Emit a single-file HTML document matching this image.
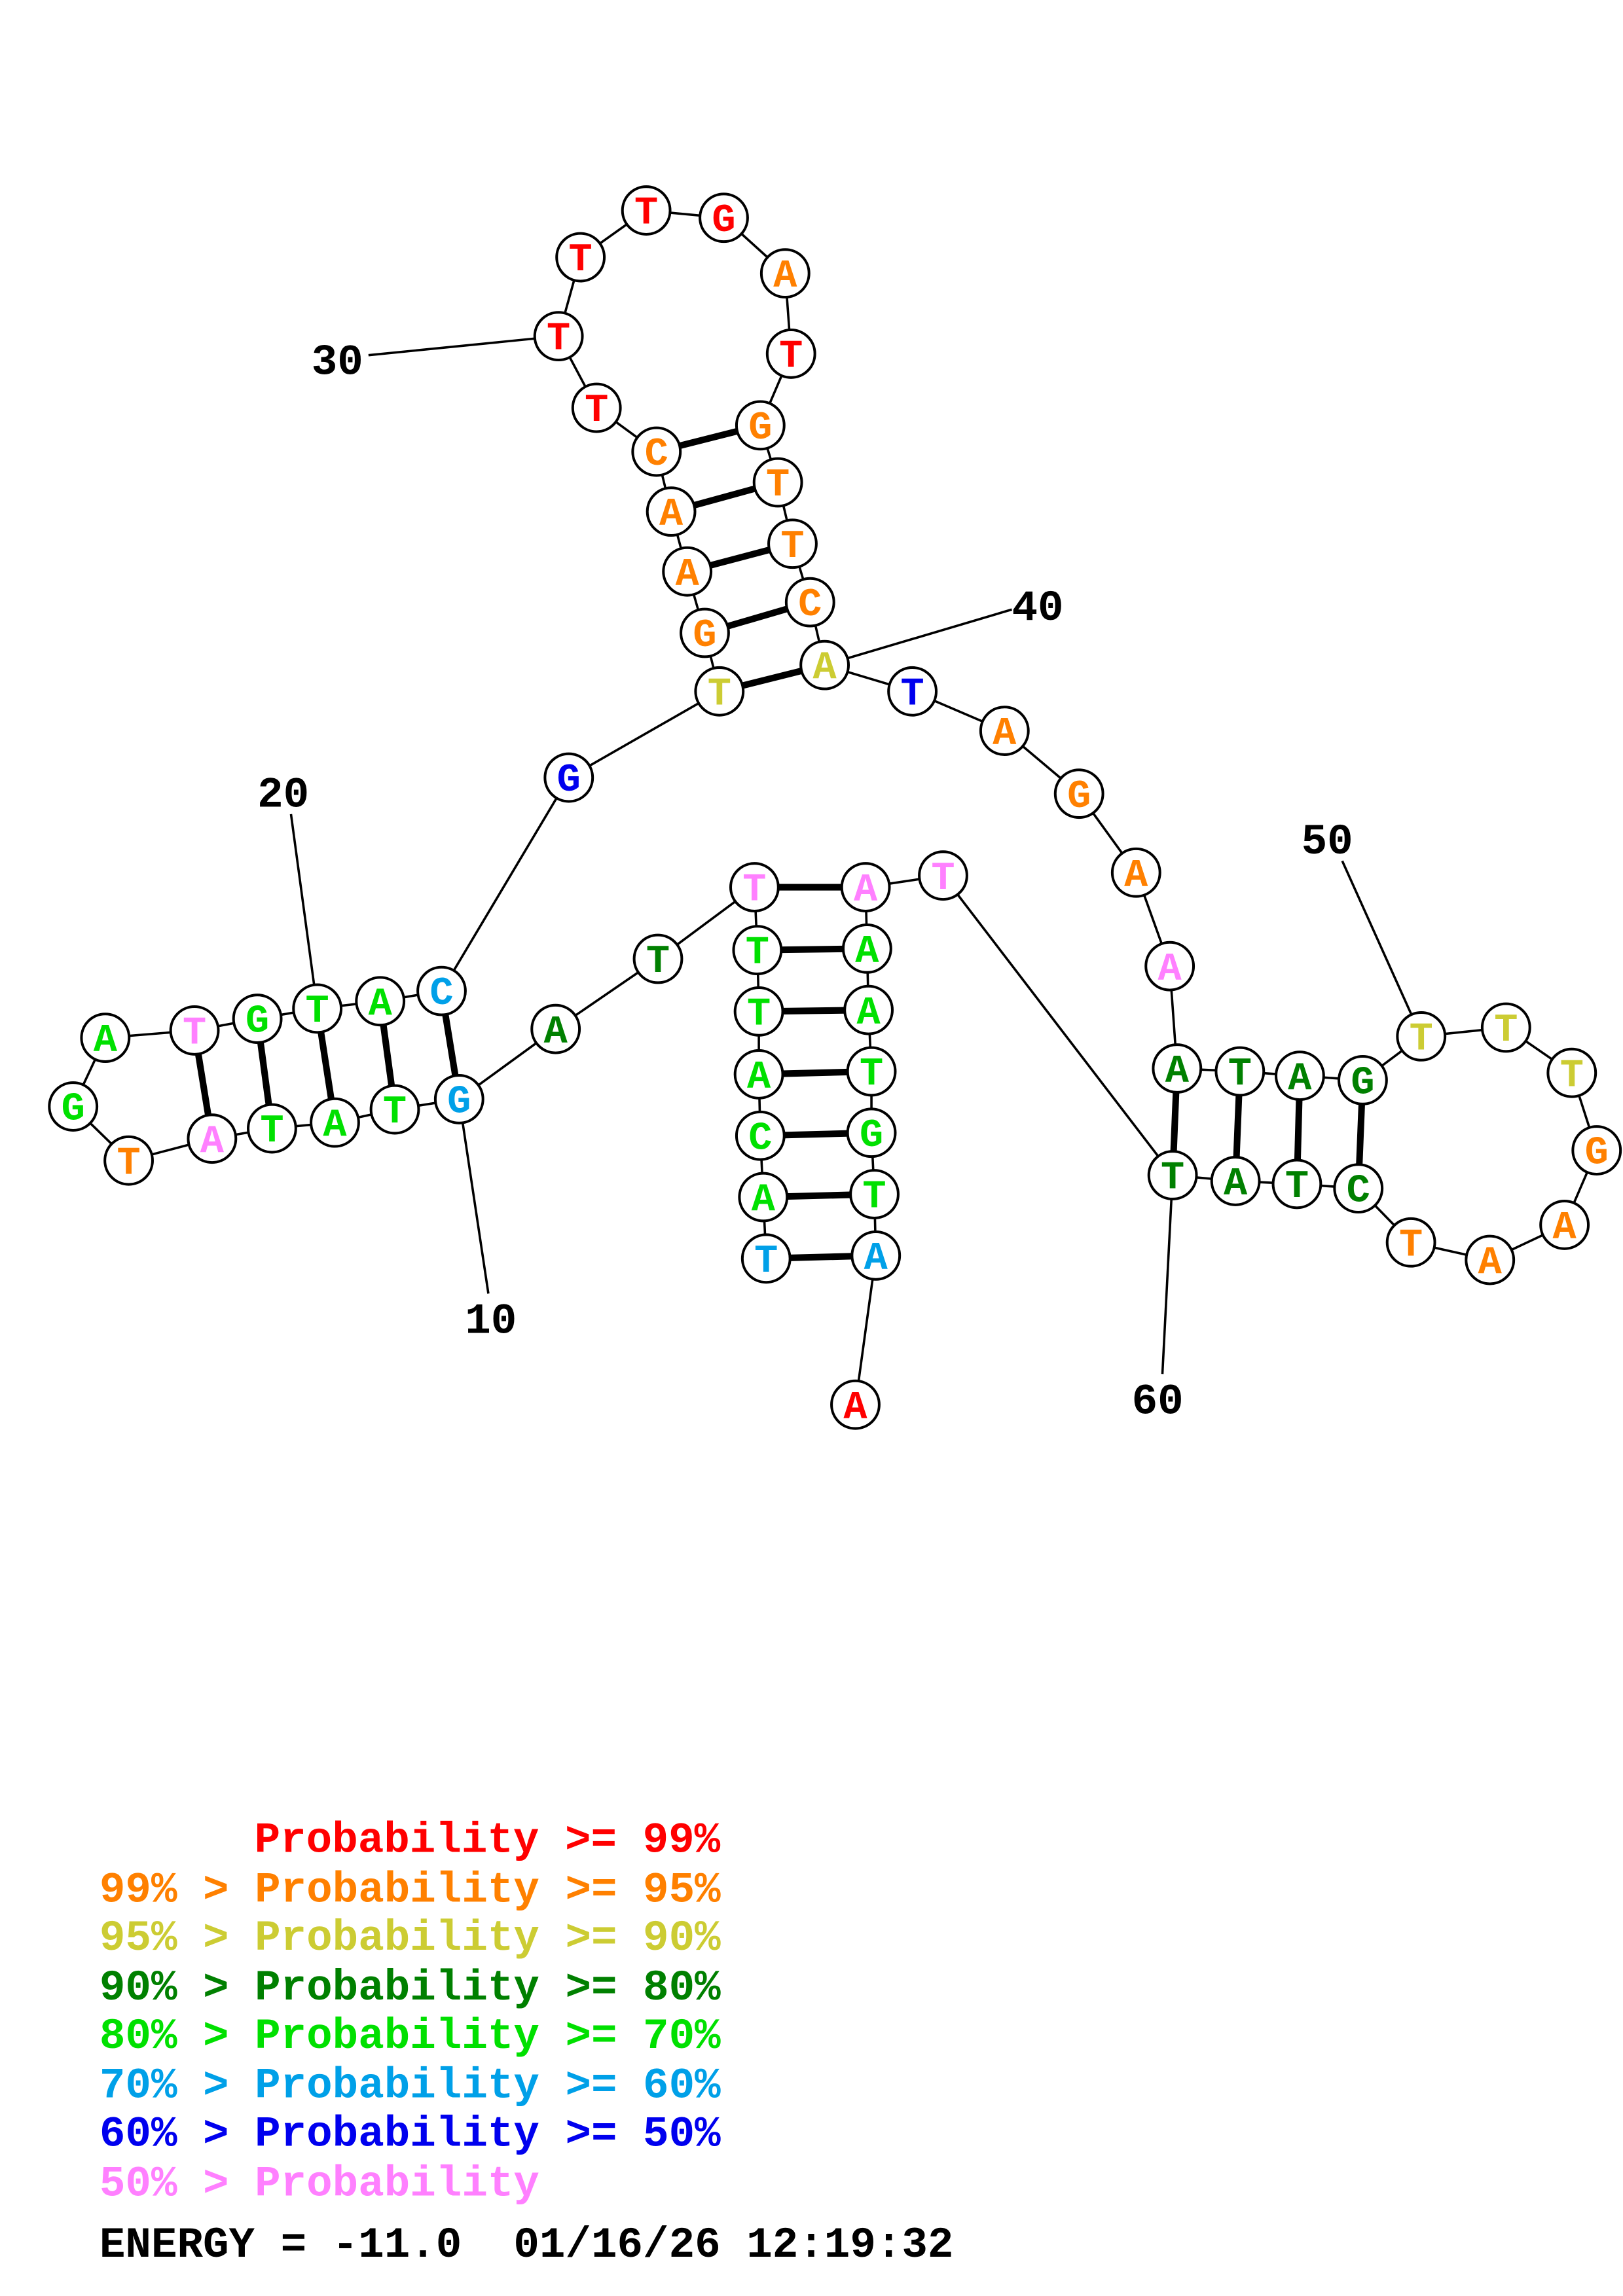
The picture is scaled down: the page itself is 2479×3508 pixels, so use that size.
<!DOCTYPE html>
<html><head><meta charset="utf-8"><style>
html,body{margin:0;padding:0;background:#fff;}
svg{display:block;}
.n{font-family:"Liberation Mono",monospace;font-weight:bold;font-size:27px;text-anchor:middle;}
.l{font-family:"Liberation Mono",monospace;font-weight:bold;font-size:29.5px;}
.R{fill:#ff0000}.O{fill:#ff8000}.Y{fill:#cccc33}.D{fill:#008000}.G{fill:#00e000}.C{fill:#00a0e8}.B{fill:#0000ee}.P{fill:#ff80ff}
circle{fill:#fff;stroke:#000;stroke-width:1.8}
</style></head><body>
<svg width="2479" height="3508" viewBox="0 0 1110 1570.8" xmlns="http://www.w3.org/2000/svg">
<g transform="translate(2,2)">
<polyline fill="none" stroke="#000" stroke-width="1.6" points="522,859 520,817 518,775 517,733 517,690 516,648 514,605 448,654 378,702 312,750 268,757 227,766 184,770 143,777 86,792 48,755 70,708 131,703 174,695 215,688 258,683 300,676 387,530 490,471 480,431 468,389 457,348 447,307 406,277 380,228 395,174 440,142 493,147 535,185 539,240 518,289 530,328 540,370 552,410 562,453 622,471 685,498 736,541 775,595 798,659 803,729 846,731 887,734 930,737 970,707 1028,701 1073,732 1090,785 1068,836 1017,860 963,848 927,811 885,808 843,806 800,802 643,597 590,605 591,647 592,689 594,731 594,773 596,815 597,857 583,959"/>
<g stroke="#000" stroke-width="4.5">
<line x1="522" y1="859" x2="597" y2="857"/><line x1="520" y1="817" x2="596" y2="815"/><line x1="518" y1="775" x2="594" y2="773"/><line x1="517" y1="733" x2="594" y2="731"/><line x1="517" y1="690" x2="592" y2="689"/><line x1="516" y1="648" x2="591" y2="647"/><line x1="514" y1="605" x2="590" y2="605"/>
<line x1="312" y1="750" x2="300" y2="676"/><line x1="268" y1="757" x2="258" y2="683"/><line x1="227" y1="766" x2="215" y2="688"/><line x1="184" y1="770" x2="174" y2="695"/><line x1="143" y1="777" x2="131" y2="703"/>
<line x1="490" y1="471" x2="562" y2="453"/><line x1="480" y1="431" x2="552" y2="410"/><line x1="468" y1="389" x2="540" y2="370"/><line x1="457" y1="348" x2="530" y2="328"/><line x1="447" y1="307" x2="518" y2="289"/>
<line x1="803" y1="729" x2="800" y2="802"/><line x1="846" y1="731" x2="843" y2="806"/><line x1="887" y1="734" x2="885" y2="808"/><line x1="930" y1="737" x2="927" y2="811"/>
</g>
<g stroke="#000" stroke-width="1.6">
<line x1="250" y1="241" x2="380" y2="228"/><line x1="690" y1="415" x2="562" y2="453"/><line x1="197" y1="555" x2="215" y2="688"/><line x1="332" y1="883" x2="312" y2="750"/><line x1="916" y1="587" x2="970" y2="707"/><line x1="793" y1="938" x2="800" y2="802"/>
</g>
<g>
<circle cx="522" cy="859" r="16.3"/><circle cx="520" cy="817" r="16.3"/><circle cx="518" cy="775" r="16.3"/><circle cx="517" cy="733" r="16.3"/><circle cx="517" cy="690" r="16.3"/><circle cx="516" cy="648" r="16.3"/><circle cx="514" cy="605" r="16.3"/><circle cx="448" cy="654" r="16.3"/><circle cx="378" cy="702" r="16.3"/><circle cx="312" cy="750" r="16.3"/><circle cx="268" cy="757" r="16.3"/><circle cx="227" cy="766" r="16.3"/><circle cx="184" cy="770" r="16.3"/><circle cx="143" cy="777" r="16.3"/><circle cx="86" cy="792" r="16.3"/><circle cx="48" cy="755" r="16.3"/><circle cx="70" cy="708" r="16.3"/><circle cx="131" cy="703" r="16.3"/><circle cx="174" cy="695" r="16.3"/><circle cx="215" cy="688" r="16.3"/><circle cx="258" cy="683" r="16.3"/><circle cx="300" cy="676" r="16.3"/><circle cx="387" cy="530" r="16.3"/><circle cx="490" cy="471" r="16.3"/><circle cx="480" cy="431" r="16.3"/><circle cx="468" cy="389" r="16.3"/><circle cx="457" cy="348" r="16.3"/><circle cx="447" cy="307" r="16.3"/><circle cx="406" cy="277" r="16.3"/><circle cx="380" cy="228" r="16.3"/><circle cx="395" cy="174" r="16.3"/><circle cx="440" cy="142" r="16.3"/><circle cx="493" cy="147" r="16.3"/><circle cx="535" cy="185" r="16.3"/><circle cx="539" cy="240" r="16.3"/><circle cx="518" cy="289" r="16.3"/><circle cx="530" cy="328" r="16.3"/><circle cx="540" cy="370" r="16.3"/><circle cx="552" cy="410" r="16.3"/><circle cx="562" cy="453" r="16.3"/><circle cx="622" cy="471" r="16.3"/><circle cx="685" cy="498" r="16.3"/><circle cx="736" cy="541" r="16.3"/><circle cx="775" cy="595" r="16.3"/><circle cx="798" cy="659" r="16.3"/><circle cx="803" cy="729" r="16.3"/><circle cx="846" cy="731" r="16.3"/><circle cx="887" cy="734" r="16.3"/><circle cx="930" cy="737" r="16.3"/><circle cx="970" cy="707" r="16.3"/><circle cx="1028" cy="701" r="16.3"/><circle cx="1073" cy="732" r="16.3"/><circle cx="1090" cy="785" r="16.3"/><circle cx="1068" cy="836" r="16.3"/><circle cx="1017" cy="860" r="16.3"/><circle cx="963" cy="848" r="16.3"/><circle cx="927" cy="811" r="16.3"/><circle cx="885" cy="808" r="16.3"/><circle cx="843" cy="806" r="16.3"/><circle cx="800" cy="802" r="16.3"/><circle cx="643" cy="597" r="16.3"/><circle cx="590" cy="605" r="16.3"/><circle cx="591" cy="647" r="16.3"/><circle cx="592" cy="689" r="16.3"/><circle cx="594" cy="731" r="16.3"/><circle cx="594" cy="773" r="16.3"/><circle cx="596" cy="815" r="16.3"/><circle cx="597" cy="857" r="16.3"/><circle cx="583" cy="959" r="16.3"/>
</g>
<g class="n" transform="translate(0,9)">
<text x="522" y="859" class="C">T</text><text x="520" y="817" class="G">A</text><text x="518" y="775" class="G">C</text><text x="517" y="733" class="G">A</text><text x="517" y="690" class="G">T</text><text x="516" y="648" class="G">T</text><text x="514" y="605" class="P">T</text><text x="448" y="654" class="D">T</text><text x="378" y="702" class="D">A</text><text x="312" y="750" class="C">G</text><text x="268" y="757" class="G">T</text><text x="227" y="766" class="G">A</text><text x="184" y="770" class="G">T</text><text x="143" y="777" class="P">A</text><text x="86" y="792" class="O">T</text><text x="48" y="755" class="G">G</text><text x="70" y="708" class="G">A</text><text x="131" y="703" class="P">T</text><text x="174" y="695" class="G">G</text><text x="215" y="688" class="G">T</text><text x="258" y="683" class="G">A</text><text x="300" y="676" class="C">C</text><text x="387" y="530" class="B">G</text><text x="490" y="471" class="Y">T</text><text x="480" y="431" class="O">G</text><text x="468" y="389" class="O">A</text><text x="457" y="348" class="O">A</text><text x="447" y="307" class="O">C</text><text x="406" y="277" class="R">T</text><text x="380" y="228" class="R">T</text><text x="395" y="174" class="R">T</text><text x="440" y="142" class="R">T</text><text x="493" y="147" class="R">G</text><text x="535" y="185" class="O">A</text><text x="539" y="240" class="R">T</text><text x="518" y="289" class="O">G</text><text x="530" y="328" class="O">T</text><text x="540" y="370" class="O">T</text><text x="552" y="410" class="O">C</text><text x="562" y="453" class="Y">A</text><text x="622" y="471" class="B">T</text><text x="685" y="498" class="O">A</text><text x="736" y="541" class="O">G</text><text x="775" y="595" class="O">A</text><text x="798" y="659" class="P">A</text><text x="803" y="729" class="D">A</text><text x="846" y="731" class="D">T</text><text x="887" y="734" class="D">A</text><text x="930" y="737" class="D">G</text><text x="970" y="707" class="Y">T</text><text x="1028" y="701" class="Y">T</text><text x="1073" y="732" class="Y">T</text><text x="1090" y="785" class="O">G</text><text x="1068" y="836" class="O">A</text><text x="1017" y="860" class="O">A</text><text x="963" y="848" class="O">T</text><text x="927" y="811" class="D">C</text><text x="885" y="808" class="D">T</text><text x="843" y="806" class="D">A</text><text x="800" y="802" class="D">T</text><text x="643" y="597" class="P">T</text><text x="590" y="605" class="P">A</text><text x="591" y="647" class="G">A</text><text x="592" y="689" class="G">A</text><text x="594" y="731" class="G">T</text><text x="594" y="773" class="G">G</text><text x="596" y="815" class="G">T</text><text x="597" y="857" class="C">A</text><text x="583" y="959" class="R">A</text>
</g>
<g class="l">
<text x="211" y="254">30</text><text x="690" y="422">40</text><text x="174" y="550">20</text><text x="316" y="910">10</text><text x="888" y="582">50</text><text x="772" y="965">60</text>
</g>
</g>
<g class="l">
<text x="174" y="1267" class="R">Probability &gt;= 99%</text>
<text x="68" y="1301" class="O">99% &gt; Probability &gt;= 95%</text>
<text x="68" y="1334" class="Y">95% &gt; Probability &gt;= 90%</text>
<text x="68" y="1368" class="D">90% &gt; Probability &gt;= 80%</text>
<text x="68" y="1401" class="G">80% &gt; Probability &gt;= 70%</text>
<text x="68" y="1435" class="C">70% &gt; Probability &gt;= 60%</text>
<text x="68" y="1468" class="B">60% &gt; Probability &gt;= 50%</text>
<text x="68" y="1502" class="P">50% &gt; Probability</text>
<text x="68" y="1544" xml:space="preserve">ENERGY = -11.0  01/16/26 12:19:32</text>
</g>
</svg>
</body></html>
